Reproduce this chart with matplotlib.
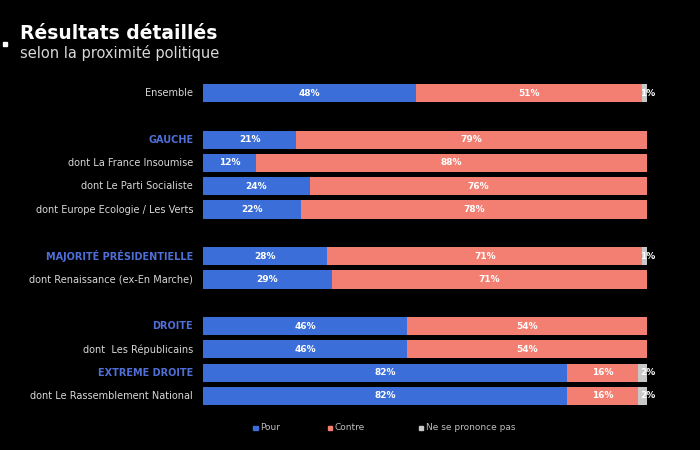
import matplotlib.pyplot as plt

labels = ["Ensemble", "GAUCHE", "dont La France Insoumise", "dont Le Parti Socialiste",
          "dont Europe Ecologie / Les Verts", "MAJORITÉ PRÉSIDENTIELLE",
          "dont Renaissance (ex-En Marche)", "DROITE", "dont  Les Républicains",
          "EXTREME DROITE", "dont Le Rassemblement National"]
is_group = [False, True, False, False, False, True, False, True, False, True, False]
rows = [0, 2, 3, 4, 5, 7, 8, 10, 11, 12, 13]
pour = [48, 21, 12, 24, 22, 28, 29, 46, 46, 82, 82]
contre = [51, 79, 88, 76, 78, 71, 71, 54, 54, 16, 16]
nsp = [1, 0, 0, 0, 0, 1, 0, 0, 0, 2, 2]

blue = "#3b6ed8"
red = "#f27f72"
grey = "#c8c8c8"
group_color = "#4f6fd6"

fig = plt.figure(figsize=(7, 4.5), dpi=100, facecolor="black")
ax = fig.add_axes([0.29, 0.1, 0.634, 0.7133], facecolor="black")

h = 0.78
ax.barh(rows, pour, height=h, color=blue)
ax.barh(rows, contre, left=pour, height=h, color=red)
left_nsp = [p + c for p, c in zip(pour, contre)]
ax.barh(rows, nsp, left=left_nsp, height=h, color=grey)

for r, p, c, n, lab, g in zip(rows, pour, contre, nsp, labels, is_group):
    ax.text(p / 2, r, f"{p}%", color="white", ha="center", va="center",
            fontsize=6.5, fontweight="bold")
    ax.text(p + c / 2, r, f"{c}%", color="white", ha="center", va="center",
            fontsize=6.5, fontweight="bold")
    if n > 0:
        ax.text(100.3, r, f"{n}%", color="white", ha="center", va="center",
                fontsize=6.5, fontweight="bold")
    ax.text(-2.2, r, lab, color=group_color if g else "#d8d8d8", ha="right",
            va="center", fontsize=7, fontweight="bold" if g else "normal")

ax.set_xlim(0, 100)
ax.set_ylim(13.39, -0.39)
ax.axis("off")

fig.text(0.029, 0.913, "Résultats détaillés", color="white", fontsize=13.5,
         fontweight="bold", va="baseline")
fig.text(0.029, 0.872, "selon la proximité politique", color="#d8d8d8",
         fontsize=10.5, va="baseline")
fig.patches.append(plt.Rectangle((0.004, 0.897), 0.006, 0.009, color="white",
                                 transform=fig.transFigure, figure=fig))

legend_items = [("Pour", blue, 0.362), ("Contre", red, 0.468), ("Ne se prononce pas", grey, 0.598)]
for name, col, x in legend_items:
    fig.patches.append(plt.Rectangle((x, 0.044), 0.006, 0.01, color=col,
                                     transform=fig.transFigure, figure=fig))
    fig.text(x + 0.01, 0.049, name, color="#bdbdbd", fontsize=6.5, va="center")

fig.savefig("out.png", dpi=100, facecolor="black")
